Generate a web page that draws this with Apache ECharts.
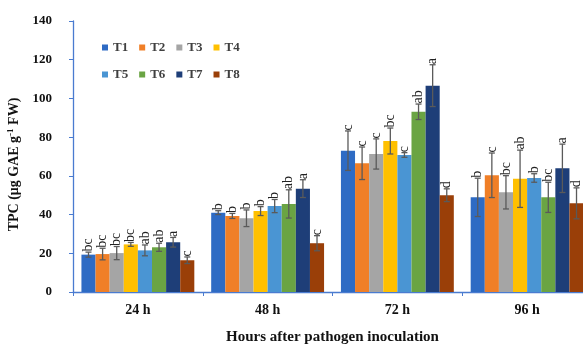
<!DOCTYPE html>
<html><head><meta charset="utf-8">
<script src="https://cdn.jsdelivr.net/npm/echarts@6/dist/echarts.min.js"></script>
<style>html,body{margin:0;padding:0;background:#fff;}#c{width:583px;height:344px;}</style>
</head><body><div id="c"></div>
<script>
const categories = ['24 h', '48 h', '72 h', '96 h'];
const seriesNames = ['T1','T2','T3','T4','T5','T6','T7','T8'];
const colors = ['#2E6BC4','#F07F27','#A5A5A5','#FFC000','#4A95D3','#6AA443','#1E3E78','#9A3F08'];
// values per treatment across the 4 time points
const T1 = [19.3, 41.0, 73.0, 48.9];
const T2 = [19.6, 39.3, 66.5, 60.3];
const T3 = [20.1, 38.1, 71.3, 51.5];
const T4 = [24.6, 41.8, 78.0, 58.5];
const T5 = [21.5, 44.4, 70.8, 58.9];
const T6 = [23.1, 45.5, 93.1, 48.9];
const T7 = [25.7, 53.4, 106.6, 63.9];
const T8 = [16.4, 25.2, 50.0, 45.8];
// error (±)
const E1 = [1.3, 1.0, 10.2, 9.9];
const E2 = [3.0, 1.3, 8.4, 11.5];
const E3 = [3.4, 4.3, 7.8, 8.6];
const E4 = [1.0, 2.3, 6.7, 14.8];
const E5 = [2.8, 3.4, 1.2, 2.2];
const E6 = [2.1, 7.3, 4.0, 7.8];
const E7 = [2.5, 4.6, 10.8, 12.5];
const E8 = [1.7, 3.9, 3.3, 8.0];
// significance letters
const L1 = ['bc','b','c','b'];
const L2 = ['bc','b','c','c'];
const L3 = ['bc','b','c','bc'];
const L4 = ['bc','b','bc','ab'];
const L5 = ['ab','b','c','b'];
const L6 = ['ab','ab','ab','bc'];
const L7 = ['a','a','a','a'];
const L8 = ['c','c','d','d'];
const yTicks = [0, 20, 40, 60, 80, 100, 120, 140];

const vals = [T1,T2,T3,T4,T5,T6,T7,T8];
const errs = [E1,E2,E3,E4,E5,E6,E7,E8];
const lets = [L1,L2,L3,L4,L5,L6,L7,L8];
const GAP = 0.13;
const N = seriesNames.length;

const serif = '"Liberation Serif", "Times New Roman", serif';
const series = [];
vals.forEach((v, i) => {
  series.push({
    name: seriesNames[i], type: 'bar', data: v, barGap: '0%', barCategoryGap: (GAP*100)+'%',
    itemStyle: {color: colors[i]}, silent: true, animation: false
  });
});
const errData = [];
vals.forEach((v, i) => v.forEach((val, c) => errData.push([c, val, errs[i][c], i, lets[i][c]])));
series.push({
  type: 'custom', data: errData, silent: true, animation: false, z: 10, clip: false,
  encode: {x: 0, y: 1},
  renderItem: function (params, api) {
    const c = api.value(0), val = api.value(1), e = api.value(2), i = api.value(3);
    const letter = errData[params.dataIndex][4];
    const band = api.size([1, 0])[0];
    const bw = band * (1 - GAP) / N;
    const center = api.coord([c, val]);
    const x = center[0] - band * (1 - GAP) / 2 + (i + 0.5) * bw;
    const top = api.coord([c, val + e])[1];
    const bot = api.coord([c, val - e])[1];
    const cap = 3;
    const st = {stroke: '#5a5a5a', lineWidth: 1.3};
    return {type: 'group', children: [
      {type: 'line', shape: {x1: x, y1: top, x2: x, y2: bot}, style: st},
      {type: 'line', shape: {x1: x-cap, y1: top, x2: x+cap, y2: top}, style: st},
      {type: 'line', shape: {x1: x-cap, y1: bot, x2: x+cap, y2: bot}, style: st},
      {type: 'text', x: x, y: top - 0.5, rotation: Math.PI/2,
       style: {text: letter, x: 0, y: 0, align: 'left', verticalAlign: 'middle',
               font: '14px ' + serif, fill: '#222'}}
    ]};
  }
});

const legendCommon = {
  itemWidth: 6, itemHeight: 6, icon: 'rect', itemGap: 11,
  textStyle: {fontFamily: serif, fontSize: 13, fontWeight: 'bold', color: '#404040', width: 22, padding: [0,0,0,0]},
  selectedMode: false
};
const chart = echarts.init(document.getElementById('c'), null, {renderer: 'canvas'});
chart.setOption({
  animation: false,
  color: colors,
  legend: [
    Object.assign({}, legendCommon, {left: 97, top: 36, data: seriesNames.slice(0,4)}),
    Object.assign({}, legendCommon, {left: 97, top: 63, data: seriesNames.slice(4)})
  ],
  grid: {left: 73, top: 21, bottom: 52, width: 519, containLabel: false, outerBoundsMode: 'none'},
  xAxis: {
    type: 'category', data: categories,
    axisLine: {lineStyle: {color: '#4A7BD0', width: 1.3}},
    axisTick: {show: true, length: 4, lineStyle: {color: '#4A7BD0'}},
    axisLabel: {fontFamily: serif, fontSize: 14, fontWeight: 'bold', color: '#111', margin: 11},
    name: 'Hours after pathogen inoculation', nameLocation: 'middle', nameGap: 38,
    nameTextStyle: {fontFamily: serif, fontSize: 15, fontWeight: 'bold', color: '#111'}
  },
  yAxis: {
    type: 'value', min: yTicks[0], max: yTicks[yTicks.length-1], interval: yTicks[1]-yTicks[0],
    splitLine: {show: false},
    axisLine: {show: true, lineStyle: {color: '#4A7BD0', width: 1.3}},
    axisTick: {show: true, length: 4, lineStyle: {color: '#4A7BD0'}},
    axisLabel: {fontFamily: serif, fontSize: 13, fontWeight: 'bold', color: '#111', margin: 21},
    name: '{a|TPC (μg GAE g}{s|-1}{a| FW)}', nameLocation: 'middle', nameGap: 39, nameRotate: 90,
    nameTextStyle: {
      padding: [0, 16, 0, 0],
      rich: {
        a: {fontFamily: serif, fontSize: 14, fontWeight: 'bold', color: '#111'},
        s: {fontFamily: serif, fontSize: 9, fontWeight: 'bold', color: '#111', verticalAlign: 'top', padding: [0,0,7,0]}
      }
    }
  },
  series: series
});
</script></body></html>
